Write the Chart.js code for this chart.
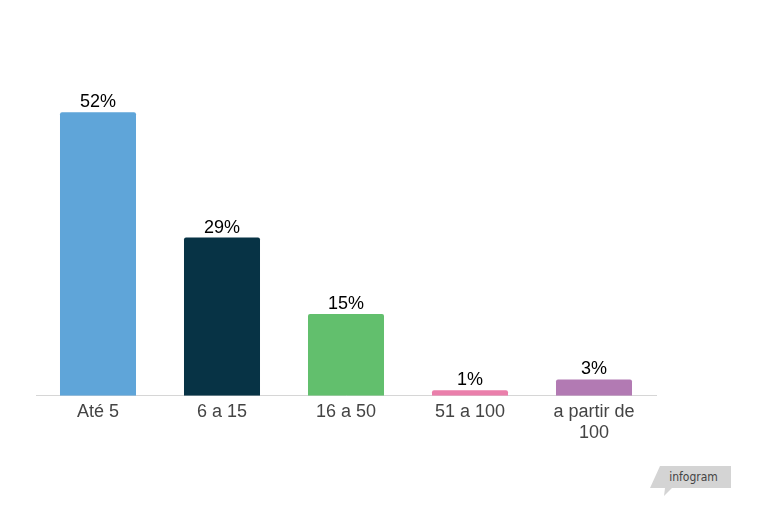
<!DOCTYPE html>
<html>
<head>
<meta charset="utf-8">
<script src="https://cdn.jsdelivr.net/npm/chart.js@4"></script>
<style>
  html, body { margin: 0; padding: 0; background: #fff; }
  #wrap { position: relative; width: 761px; height: 511px; }
  #badge {
    position: absolute; left: 650px; top: 466px; width: 81px; height: 30px;
    background: #d4d4d4;
    clip-path: polygon(10px 0, 81px 0, 81px 22px, 22px 22px, 14px 30px, 15px 22px, 0 22px);
    font-family: "DejaVu Sans Condensed", "Liberation Sans Narrow", sans-serif;
    font-size: 12px; color: #444; text-align: center; line-height: 22px;
    padding-left: 6px; box-sizing: border-box;
  }
</style>
</head>
<body>
<div id="wrap">
  <canvas id="myChart" width="761" height="511"></canvas>
  <div id="badge">infogram</div>
</div>
<script>
// datos del grafico
const categorias = [["Até 5"], ["6 a 15"], ["16 a 50"], ["51 a 100"], ["a partir de", "100"]];
const valores = [52, 29, 15, 1, 3];
const colores = ["#5fa5d9", "#073345", "#62bf6d", "#ea7fab", "#b27ab3"];

// etiquetas de porcentaje encima de las barras
const etiquetas = {
    id: "etiquetas",
    afterDatasetsDraw(chart) {
        const ctx = chart.ctx;
        const meta = chart.getDatasetMeta(0);
        ctx.save();
        ctx.font = "18px 'Liberation Sans', Arial, sans-serif";
        ctx.fillStyle = "#000";
        ctx.textAlign = "center";
        ctx.textBaseline = "alphabetic";
        meta.data.forEach((bar, i) => {
            ctx.fillText(valores[i] + "%", bar.x, bar.y - 5);
        });
        ctx.restore();
    }
};

let miCanvas = document.getElementById("myChart").getContext("2d");

var chart = new Chart(miCanvas, {
    type: "bar",
    data: {
        labels: categorias,
        datasets: [
            {
                data: valores,
                backgroundColor: colores,
                borderRadius: { topLeft: 2, topRight: 2 },
                borderSkipped: "bottom",
                barPercentage: 1,
                categoryPercentage: 0.613
            }
        ]
    },
    options: {
        responsive: false,
        animation: false,
        layout: {
            padding: { top: 68.5, left: 36, right: 105, bottom: 62 }
        },
        plugins: {
            legend: { display: false },
            tooltip: { enabled: false }
        },
        scales: {
            y: {
                display: false,
                min: 0,
                max: 60
            },
            x: {
                grid: { display: false, drawTicks: false },
                border: { display: true, color: "#d6d6d6" },
                ticks: {
                    color: "#444",
                    padding: 5,
                    font: { family: "'Liberation Sans', Arial, sans-serif", size: 18 },
                    maxRotation: 0
                }
            }
        }
    },
    plugins: [etiquetas]
});
</script>
</body>
</html>
